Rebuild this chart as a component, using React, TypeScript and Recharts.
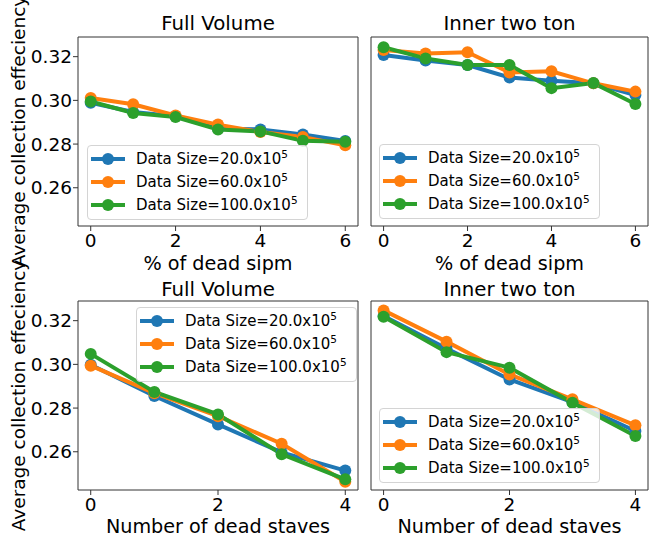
import React from "react";
import { Label, Legend, Line, LineChart, XAxis, YAxis } from "recharts";

const W = 649;
const H = 537;
const FONT = "DejaVu Sans";
const FRAME = "#333";

// x values
const deadSipm = [0, 1, 2, 3, 4, 5, 6];
const deadStaves = [0, 1, 2, 3, 4];
const sipmTicks = [0, 2, 4, 6];
const staveTicks = [0, 2, 4];
const yTicks = [0.26, 0.28, 0.3, 0.32];

// legend
const dataSizes = ["20.0", "60.0", "100.0"];
const colors = ["#1f77b4", "#ff7f0e", "#2ca02c"];

// Full Volume, % of dead sipm
const fvSipm20 = [0.2989, 0.2947, 0.2927, 0.287, 0.2867, 0.2844, 0.2814];
const fvSipm60 = [0.3011, 0.2982, 0.2931, 0.2889, 0.2855, 0.2832, 0.2794];
const fvSipm100 = [0.2995, 0.2942, 0.2924, 0.2867, 0.2858, 0.2815, 0.2811];

// Inner two ton, % of dead sipm
const itSipm20 = [0.3208, 0.3182, 0.3162, 0.3105, 0.309, 0.3078, 0.3024];
const itSipm60 = [0.3231, 0.3215, 0.322, 0.3128, 0.3133, 0.3078, 0.304];
const itSipm100 = [0.3243, 0.3192, 0.3162, 0.3162, 0.3056, 0.3079, 0.2983];

// Full Volume, dead staves
const fvStave20 = [0.2998, 0.2855, 0.2725, 0.2597, 0.2514];
const fvStave60 = [0.2994, 0.2868, 0.2763, 0.2637, 0.2463];
const fvStave100 = [0.3048, 0.2874, 0.2771, 0.2589, 0.2474];

// Inner two ton, dead staves
const itStave20 = [0.3221, 0.3072, 0.2931, 0.2827, 0.2695];
const itStave60 = [0.3247, 0.3104, 0.2954, 0.284, 0.2721];
const itStave100 = [0.3218, 0.3056, 0.2985, 0.2824, 0.2672];

const yDomain = [0.2425, 0.329];

const panels = [
    {
        title: "Full Volume", xLabel: "% of dead sipm", xs: deadSipm, ticks: sipmTicks,
        xDomain: [-0.3, 6.3], series: [fvSipm20, fvSipm60, fvSipm100],
        box: [78, 37, 358, 226], yLabels: true, legend: [87, 145], titleOffset: 6.5, labelOffset: 0.5,
    },
    {
        title: "Inner two ton", xLabel: "% of dead sipm", xs: deadSipm, ticks: sipmTicks,
        xDomain: [-0.3, 6.3], series: [itSipm20, itSipm60, itSipm100],
        box: [371, 37, 648, 226], yLabels: false, legend: [379, 144], titleOffset: 6.5, labelOffset: 0.5,
    },
    {
        title: "Full Volume", xLabel: "Number of dead staves", xs: deadStaves, ticks: staveTicks,
        xDomain: [-0.2, 4.2], series: [fvStave20, fvStave60, fvStave100],
        box: [78, 301, 358, 490], yLabels: true, legend: [136, 307], titleOffset: 4.5, labelOffset: -1,
    },
    {
        title: "Inner two ton", xLabel: "Number of dead staves", xs: deadStaves, ticks: staveTicks,
        xDomain: [-0.2, 4.2], series: [itStave20, itStave60, itStave100],
        box: [371, 301, 648, 490], yLabels: false, legend: [379, 408], titleOffset: 4.5, labelOffset: -1,
    },
];

function LegendBox() {
    return (
        <div style={{
            border: "1px solid #d4d4d4", borderRadius: 4, background: "rgba(255,255,255,0.8)",
            padding: "1px 9px 3px 3px", fontFamily: FONT, fontSize: 15, color: "#000",
            width: "max-content", boxSizing: "border-box",
        }}>
            {dataSizes.map((s, i) => (
                <div key={s} style={{display: "flex", alignItems: "center", height: 23}}>
                    <svg width={34} height={14}>
                        <line x1={0} y1={7} x2={34} y2={7} stroke={colors[i]} strokeWidth={4}/>
                        <circle cx={17} cy={7} r={6} fill={colors[i]}/>
                    </svg>
                    <span style={{marginLeft: 11, whiteSpace: "nowrap"}}>
                        Data Size={s}x10<sup style={{fontSize: 10.5, lineHeight: 0, verticalAlign: "0.55em"}}>5</sup>
                    </span>
                </div>
            ))}
        </div>
    );
}

function Panel({p}: {p: any}) {
    const [x0, y0, x1, y1] = p.box;
    const yW = p.yLabels ? 48 : 10;
    const xH = 30;
    const data = p.xs.map((x: number, i: number) => ({
        x, s0: p.series[0][i], s1: p.series[1][i], s2: p.series[2][i],
    }));
    const cy = (y0 + y1) / 2;
    return (
        <div style={{position: "absolute", left: 0, top: 0}}>
            <LineChart width={W} height={H} data={data}
                       margin={{top: y0 - 1, left: x0 - yW, right: W - x1 - 1, bottom: H - y1 - xH}}>
                <XAxis dataKey="x" type="number" domain={p.xDomain} ticks={p.ticks} interval={0}
                       allowDataOverflow height={xH} tickSize={5} tickMargin={3}
                       axisLine={{stroke: FRAME}} tickLine={{stroke: FRAME}}
                       tick={{fill: "#000", fontSize: 18.5, fontFamily: FONT}}>
                    <Label value={p.xLabel} position="bottom" offset={p.labelOffset}
                           style={{fill: "#000", fontSize: 19.2, fontFamily: FONT}}/>
                </XAxis>
                <XAxis xAxisId="top" orientation="top" dataKey="x" type="number" domain={p.xDomain}
                       allowDataOverflow height={1} tick={false} tickLine={false} axisLine={{stroke: FRAME}}>
                    <Label value={p.title} position="top" offset={p.titleOffset}
                           style={{fill: "#000", fontSize: 19.8, fontFamily: FONT}}/>
                </XAxis>
                <YAxis type="number" domain={yDomain} ticks={yTicks} interval={0} allowDataOverflow
                       width={yW} tickSize={5} tickMargin={1}
                       axisLine={{stroke: FRAME}} tickLine={{stroke: FRAME}}
                       tick={p.yLabels ? {fill: "#000", fontSize: 18.5, fontFamily: FONT} : false}
                       tickFormatter={(v: number) => v.toFixed(2)}>
                    {p.yLabels && (
                        <Label content={() => (
                            <text x={24.5} y={cy} transform={`rotate(-90, 24.5, ${cy})`}
                                  textAnchor="middle" fill="#000" fontSize={18.5} fontFamily={FONT}>
                                Average collection effeciency
                            </text>
                        )}/>
                    )}
                </YAxis>
                <YAxis yAxisId="right" orientation="right" type="number" domain={yDomain}
                       allowDataOverflow width={1} tick={false} tickLine={false} axisLine={{stroke: FRAME}}/>
                {colors.map((c, i) => (
                    <Line key={c} dataKey={`s${i}`} type="linear" stroke={c} strokeWidth={4}
                          dot={{r: 6, fill: c, stroke: c, strokeWidth: 0}}
                          isAnimationActive={false}/>
                ))}
                <Legend layout="vertical" align="center" verticalAlign="middle"
                        wrapperStyle={{left: p.legend[0], top: p.legend[1], width: "auto"}}
                        content={() => <LegendBox/>}/>
            </LineChart>
        </div>
    );
}

export default function App() {
    return (
        <div style={{position: "absolute", left: 0, top: 0, width: W, height: H, background: "#fff"}}>
            {panels.map((p, i) => <Panel key={i} p={p}/>)}
        </div>
    );
}
